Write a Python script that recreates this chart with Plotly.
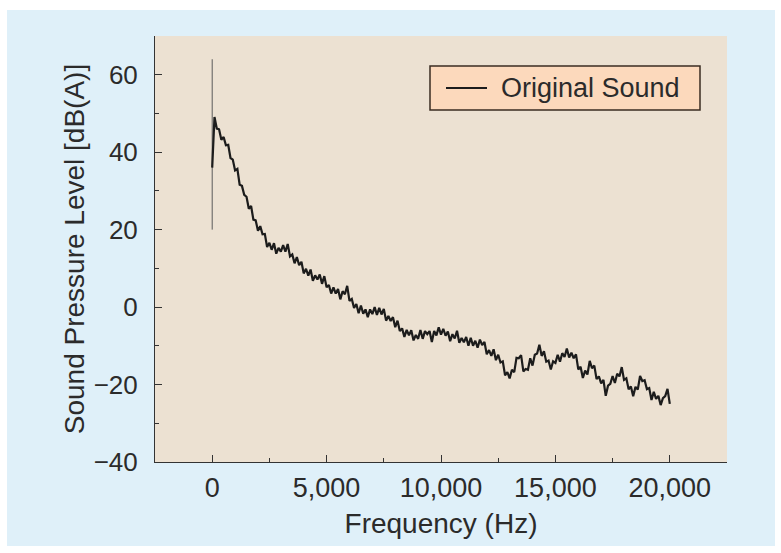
import plotly.graph_objects as go

# Frequency bins (Hz)
freq_hz = list(range(0, 20001, 100))

# Sound pressure level dB(A)
spl_db = [
    36.0, 49.1, 46.1, 45.9, 43.2, 43.9, 41.8, 41.9, 38.5, 38.1,
    35.3, 35.7, 31.6, 31.3, 29.0, 28.5, 25.4, 26.1, 22.6, 22.4,
    19.7, 20.9, 18.8, 18.9, 15.5, 16.6, 14.8, 16.5, 13.8, 15.3,
    14.3, 16.0, 14.3, 16.3, 13.1, 13.6, 11.3, 12.9, 10.8, 11.7,
    8.7, 9.9, 8.1, 9.7, 6.8, 8.2, 7.1, 8.4, 6.0, 8.0,
    5.1, 5.7, 3.5, 5.1, 3.5, 4.7, 2.0, 4.1, 3.3, 5.5,
    1.6, 2.1, -0.2, 0.8, -1.6, 0.4, -1.7, -0.6, -2.6, -0.6,
    -1.8, 0.0, -2.0, -0.2, -1.9, -0.5, -3.5, -2.3, -3.6, -2.6,
    -5.2, -3.5, -6.2, -5.5, -7.7, -5.9, -7.3, -6.0, -8.6, -7.2,
    -8.2, -5.9, -8.2, -6.2, -7.0, -6.2, -9.0, -6.2, -7.3, -5.2,
    -7.1, -5.6, -7.4, -6.3, -8.8, -7.0, -8.1, -6.1, -9.2, -8.0,
    -9.1, -7.7, -10.0, -7.9, -10.0, -8.7, -10.5, -8.4, -9.8, -9.0,
    -12.2, -11.1, -12.6, -10.9, -13.7, -12.3, -14.3, -14.0, -17.6, -16.8,
    -18.4, -16.2, -16.8, -13.1, -13.2, -12.4, -16.6, -16.0, -16.2, -13.2,
    -15.1, -12.3, -12.0, -9.7, -12.6, -11.4, -14.1, -13.8, -16.1, -14.0,
    -14.4, -12.3, -14.1, -11.9, -12.9, -10.7, -13.0, -11.8, -13.2, -12.2,
    -16.1, -15.4, -18.3, -16.4, -17.4, -13.9, -15.8, -15.1, -18.6, -17.9,
    -19.7, -18.8, -22.9, -20.3, -19.8, -17.8, -19.6, -17.2, -17.9, -15.5,
    -18.8, -18.4, -21.2, -20.5, -23.0, -20.6, -21.3, -17.8, -19.1, -18.9,
    -21.2, -20.9, -24.0, -21.9, -23.7, -22.9, -25.3, -23.5, -23.0, -21.1,
    -25.0,
]

# Narrow spike at 0 Hz
spike_hz = [0, 0]
spike_db = [20, 64]

series_name = "Original Sound"
x_title = "Frequency (Hz)"
y_title = "Sound Pressure Level [dB(A)]"
x_ticks = [0, 5000, 10000, 15000, 20000]
y_ticks = [60, 40, 20, 0, -20, -40]

FONT = "Liberation Sans, Arial, Helvetica, sans-serif"
TXT = "#2b2b2b"
LINE_COLOR = "#1c1c1c"

fig = go.Figure()
fig.add_trace(go.Scatter(
    x=spike_hz, y=spike_db, mode="lines",
    line=dict(color="#5a5a5a", width=1), showlegend=False, hoverinfo="skip",
))
fig.add_trace(go.Scatter(
    x=freq_hz, y=spl_db, mode="lines", name=series_name,
    line=dict(color=LINE_COLOR, width=2.2), showlegend=False,
))

W, H = 781, 553
L, R, T, B = 155, 727, 36, 462
pw, ph = R - L, B - T


def px(xp):
    return (xp - L) / pw


def py(yp):
    return (B - yp) / ph


# legend box (drawn as a framed key)
LG_L, LG_R, LG_T, LG_B = 430, 700, 66, 110
LG_MID = (LG_T + LG_B) / 2

fig.update_layout(
    width=W, height=H,
    margin=dict(l=L, r=W - R, t=T, b=H - B, pad=0),
    paper_bgcolor="white",
    plot_bgcolor="rgba(0,0,0,0)",
    font=dict(family=FONT, size=27, color=TXT),
    showlegend=False,
    shapes=[
        dict(type="rect", xref="paper", yref="paper", layer="below",
             x0=px(7), x1=px(775), y0=py(546), y1=py(10),
             fillcolor="#dff0f9", line=dict(width=0)),
        dict(type="rect", xref="paper", yref="paper", layer="below",
             x0=0, x1=1, y0=0, y1=1,
             fillcolor="#ece1d2", line=dict(width=0)),
        dict(type="rect", xref="paper", yref="paper", layer="above",
             x0=px(LG_L), x1=px(LG_R), y0=py(LG_B), y1=py(LG_T),
             fillcolor="#fcd9bc", line=dict(color="#3a2c22", width=1.5)),
        dict(type="line", xref="paper", yref="paper", layer="above",
             x0=px(446), x1=px(487), y0=py(LG_MID), y1=py(LG_MID),
             line=dict(color=LINE_COLOR, width=2)),
    ],
    annotations=[
        dict(text=series_name, xref="paper", yref="paper",
             x=px(499), y=py(LG_MID), xanchor="left", yanchor="middle",
             showarrow=False, font=dict(family=FONT, size=27, color=TXT)),
    ],
)

fig.update_xaxes(
    range=[-2500, 22500],
    tickvals=x_ticks, tickformat=",d",
    ticks="inside", ticklen=7, tickwidth=1, tickcolor="#333",
    minor=dict(dtick=2500, tick0=0, ticks="inside", ticklen=4, tickcolor="#333"),
    showline=True, linecolor="#333", linewidth=1,
    showgrid=False, zeroline=False,
    tickfont=dict(size=27, color=TXT),
    ticklabelstandoff=2,
    title=dict(text=x_title, font=dict(size=28, color=TXT), standoff=10),
)
fig.update_yaxes(
    range=[-40, 70],
    tickvals=y_ticks,
    ticks="inside", ticklen=7, tickwidth=1, tickcolor="#333",
    minor=dict(dtick=10, tick0=0, ticks="inside", ticklen=4, tickcolor="#333"),
    showline=True, linecolor="#333", linewidth=1,
    showgrid=False, zeroline=False,
    tickfont=dict(size=26, color=TXT),
    ticklabelstandoff=11,
    title=dict(text=y_title, font=dict(size=28, color=TXT), standoff=0),
)

fig.write_html("out.html")
